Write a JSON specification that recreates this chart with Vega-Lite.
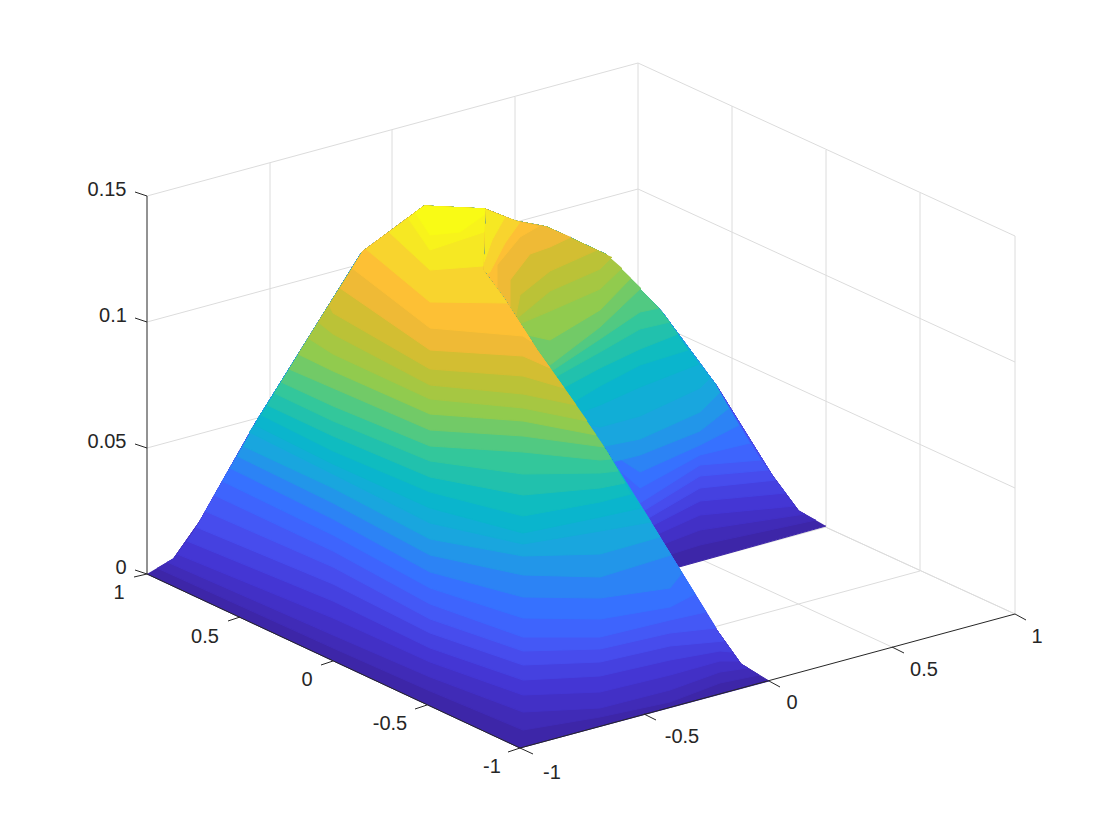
{"$schema":"https://vega.github.io/schema/vega-lite/v6.json","width":1120,"height":840,"autosize":{"type":"fit","contains":"padding"},"padding":0,"background":"white","config":{"view":{"stroke":null}},
"datasets":{
"grid":[{"a":147,"b":196,"c":638,"d":63},{"a":147,"b":322,"c":638,"d":189},{"a":147,"b":448,"c":638,"d":315},{"a":147,"b":574,"c":638,"d":441},{"a":638,"b":63,"c":1015,"d":236},{"a":638,"b":189,"c":1015,"d":362},{"a":638,"b":315,"c":1015,"d":488},{"a":638,"b":441,"c":1015,"d":614},{"a":270,"b":541,"c":270,"d":163},{"a":392,"b":507,"c":392,"d":130},{"a":515,"b":474,"c":515,"d":97},{"a":638,"b":441,"c":638,"d":63},{"a":732,"b":484,"c":732,"d":106},{"a":826,"b":527,"c":826,"d":150},{"a":920,"b":571,"c":920,"d":193},{"a":1015,"b":614,"c":1015,"d":236},{"a":644,"b":714,"c":270,"d":541},{"a":769,"b":681,"c":392,"d":507},{"a":892,"b":647,"c":515,"d":474},{"a":1015,"b":614,"c":638,"d":441},{"a":240,"b":617,"c":732,"d":484},{"a":333,"b":661,"c":826,"d":527},{"a":427,"b":705,"c":920,"d":571}],
"axes":[{"a":147,"b":196,"c":147,"d":574},{"a":147,"b":574,"c":520,"d":748},{"a":520,"b":748,"c":1015,"d":614},{"a":147,"b":196,"c":135,"d":192},{"a":147,"b":322,"c":135,"d":318},{"a":147,"b":448,"c":135,"d":444},{"a":147,"b":574,"c":135,"d":570},{"a":147,"b":574,"c":134,"d":577},{"a":240,"b":617,"c":228,"d":621},{"a":333,"b":661,"c":321,"d":665},{"a":427,"b":705,"c":415,"d":709},{"a":520,"b":748,"c":508,"d":752},{"a":520,"b":748,"c":533,"d":754},{"a":644,"b":714,"c":656,"d":720},{"a":769,"b":681,"c":780,"d":687},{"a":892,"b":647,"c":904,"d":653},{"a":1015,"b":614,"c":1026,"d":620}],
"labels":[{"u":107,"v":190,"s":"0.15"},{"u":113,"v":316,"s":"0.1"},{"u":107,"v":442,"s":"0.05"},{"u":121,"v":568,"s":"0"},{"u":119,"v":593,"s":"1"},{"u":205,"v":637,"s":"0.5"},{"u":307,"v":680,"s":"0"},{"u":390,"v":724,"s":"-0.5"},{"u":492,"v":767,"s":"-1"},{"u":552,"v":773,"s":"-1"},{"u":682,"v":737,"s":"-0.5"},{"u":792,"v":703,"s":"0"},{"u":924,"v":670,"s":"0.5"},{"u":1037,"v":637,"s":"1"}],
"back":[
{"z":0,"u":826,"v":526},{"z":0,"u":582,"v":594},{"z":0,"u":478,"v":280},{"z":0,"u":485,"v":209},{"z":0,"u":515,"v":221},{"z":0,"u":547,"v":227},{"z":0,"u":607,"v":255},{"z":0,"u":662,"v":312},{"z":0,"u":716,"v":385},{"z":0,"u":772,"v":475},{"z":0,"u":798,"v":510},
{"z":0.005,"u":816,"v":520},{"z":0.005,"u":700,"v":545},{"z":0.005,"u":640,"v":564},{"z":0.005,"u":560,"v":420},{"z":0.005,"u":478,"v":280},{"z":0.005,"u":485,"v":209},{"z":0.005,"u":515,"v":221},{"z":0.005,"u":547,"v":227},{"z":0.005,"u":607,"v":255},{"z":0.005,"u":662,"v":312},{"z":0.005,"u":716,"v":385},{"z":0.005,"u":772,"v":475},{"z":0.005,"u":798,"v":510},
{"z":0.01,"u":805,"v":514},{"z":0.01,"u":700,"v":530},{"z":0.01,"u":640,"v":553},{"z":0.01,"u":560,"v":420},{"z":0.01,"u":478,"v":280},{"z":0.01,"u":485,"v":209},{"z":0.01,"u":515,"v":221},{"z":0.01,"u":547,"v":227},{"z":0.01,"u":607,"v":255},{"z":0.01,"u":662,"v":312},{"z":0.01,"u":716,"v":385},{"z":0.01,"u":772,"v":475},{"z":0.01,"u":798,"v":510},
{"z":0.015,"u":795,"v":506},{"z":0.015,"u":700,"v":515},{"z":0.015,"u":640,"v":542},{"z":0.015,"u":560,"v":420},{"z":0.015,"u":478,"v":280},{"z":0.015,"u":485,"v":209},{"z":0.015,"u":515,"v":221},{"z":0.015,"u":547,"v":227},{"z":0.015,"u":607,"v":255},{"z":0.015,"u":662,"v":312},{"z":0.015,"u":716,"v":385},{"z":0.015,"u":772,"v":475},
{"z":0.02,"u":786,"v":493},{"z":0.02,"u":700,"v":501},{"z":0.02,"u":640,"v":532},{"z":0.02,"u":560,"v":420},{"z":0.02,"u":478,"v":280},{"z":0.02,"u":485,"v":209},{"z":0.02,"u":515,"v":221},{"z":0.02,"u":547,"v":227},{"z":0.02,"u":607,"v":255},{"z":0.02,"u":662,"v":312},{"z":0.02,"u":716,"v":385},{"z":0.02,"u":772,"v":475},
{"z":0.025,"u":776,"v":480},{"z":0.025,"u":700,"v":488},{"z":0.025,"u":640,"v":523},{"z":0.025,"u":560,"v":420},{"z":0.025,"u":478,"v":280},{"z":0.025,"u":485,"v":209},{"z":0.025,"u":515,"v":221},{"z":0.025,"u":547,"v":227},{"z":0.025,"u":607,"v":255},{"z":0.025,"u":662,"v":312},{"z":0.025,"u":716,"v":385},{"z":0.025,"u":772,"v":475},
{"z":0.03,"u":768,"v":470},{"z":0.03,"u":700,"v":476},{"z":0.03,"u":640,"v":513},{"z":0.03,"u":560,"v":420},{"z":0.03,"u":478,"v":280},{"z":0.03,"u":485,"v":209},{"z":0.03,"u":515,"v":221},{"z":0.03,"u":547,"v":227},{"z":0.03,"u":607,"v":255},{"z":0.03,"u":662,"v":312},{"z":0.03,"u":716,"v":385},
{"z":0.035,"u":761,"v":460},{"z":0.035,"u":700,"v":465},{"z":0.035,"u":640,"v":503},{"z":0.035,"u":560,"v":420},{"z":0.035,"u":478,"v":280},{"z":0.035,"u":485,"v":209},{"z":0.035,"u":515,"v":221},{"z":0.035,"u":547,"v":227},{"z":0.035,"u":607,"v":255},{"z":0.035,"u":662,"v":312},{"z":0.035,"u":716,"v":385},
{"z":0.04,"u":750,"v":443},{"z":0.04,"u":700,"v":455},{"z":0.04,"u":640,"v":488},{"z":0.04,"u":560,"v":420},{"z":0.04,"u":478,"v":280},{"z":0.04,"u":485,"v":209},{"z":0.04,"u":515,"v":221},{"z":0.04,"u":547,"v":227},{"z":0.04,"u":607,"v":255},{"z":0.04,"u":662,"v":312},{"z":0.04,"u":716,"v":385},
{"z":0.045,"u":739,"v":425},{"z":0.045,"u":700,"v":445},{"z":0.045,"u":640,"v":472},{"z":0.045,"u":560,"v":420},{"z":0.045,"u":478,"v":280},{"z":0.045,"u":485,"v":209},{"z":0.045,"u":515,"v":221},{"z":0.045,"u":547,"v":227},{"z":0.045,"u":607,"v":255},{"z":0.045,"u":662,"v":312},{"z":0.045,"u":716,"v":385},
{"z":0.05,"u":729,"v":408},{"z":0.05,"u":700,"v":431},{"z":0.05,"u":640,"v":455},{"z":0.05,"u":600,"v":465},{"z":0.05,"u":560,"v":420},{"z":0.05,"u":478,"v":280},{"z":0.05,"u":485,"v":209},{"z":0.05,"u":515,"v":221},{"z":0.05,"u":547,"v":227},{"z":0.05,"u":607,"v":255},{"z":0.05,"u":662,"v":312},{"z":0.05,"u":716,"v":385},
{"z":0.055,"u":720,"v":392},{"z":0.055,"u":700,"v":412},{"z":0.055,"u":640,"v":439},{"z":0.055,"u":600,"v":447},{"z":0.055,"u":560,"v":420},{"z":0.055,"u":478,"v":280},{"z":0.055,"u":485,"v":209},{"z":0.055,"u":515,"v":221},{"z":0.055,"u":547,"v":227},{"z":0.055,"u":607,"v":255},{"z":0.055,"u":662,"v":312},{"z":0.055,"u":716,"v":385},
{"z":0.06,"u":710,"v":378},{"z":0.06,"u":700,"v":388},{"z":0.06,"u":640,"v":416},{"z":0.06,"u":600,"v":427},{"z":0.06,"u":560,"v":420},{"z":0.06,"u":478,"v":280},{"z":0.06,"u":485,"v":209},{"z":0.06,"u":515,"v":221},{"z":0.06,"u":547,"v":227},{"z":0.06,"u":607,"v":255},{"z":0.06,"u":662,"v":312},
{"z":0.065,"u":699,"v":364},{"z":0.065,"u":640,"v":387},{"z":0.065,"u":600,"v":405},{"z":0.065,"u":560,"v":420},{"z":0.065,"u":478,"v":280},{"z":0.065,"u":485,"v":209},{"z":0.065,"u":515,"v":221},{"z":0.065,"u":547,"v":227},{"z":0.065,"u":607,"v":255},{"z":0.065,"u":662,"v":312},
{"z":0.07,"u":688,"v":350},{"z":0.07,"u":640,"v":365},{"z":0.07,"u":600,"v":386},{"z":0.07,"u":560,"v":410},{"z":0.07,"u":478,"v":280},{"z":0.07,"u":485,"v":209},{"z":0.07,"u":515,"v":221},{"z":0.07,"u":547,"v":227},{"z":0.07,"u":607,"v":255},{"z":0.07,"u":662,"v":312},
{"z":0.075,"u":678,"v":334},{"z":0.075,"u":640,"v":349},{"z":0.075,"u":600,"v":368},{"z":0.075,"u":550,"v":395},{"z":0.075,"u":478,"v":280},{"z":0.075,"u":485,"v":209},{"z":0.075,"u":515,"v":221},{"z":0.075,"u":547,"v":227},{"z":0.075,"u":607,"v":255},{"z":0.075,"u":662,"v":312},
{"z":0.08,"u":670,"v":322},{"z":0.08,"u":640,"v":329},{"z":0.08,"u":600,"v":352},{"z":0.08,"u":550,"v":380},{"z":0.08,"u":478,"v":280},{"z":0.08,"u":485,"v":209},{"z":0.08,"u":515,"v":221},{"z":0.08,"u":547,"v":227},{"z":0.08,"u":607,"v":255},{"z":0.08,"u":662,"v":312},
{"z":0.085,"u":659,"v":308},{"z":0.085,"u":640,"v":312},{"z":0.085,"u":600,"v":339},{"z":0.085,"u":550,"v":372},{"z":0.085,"u":478,"v":280},{"z":0.085,"u":485,"v":209},{"z":0.085,"u":515,"v":221},{"z":0.085,"u":547,"v":227},{"z":0.085,"u":607,"v":255},
{"z":0.09,"u":641,"v":288},{"z":0.09,"u":600,"v":327},{"z":0.09,"u":550,"v":365},{"z":0.09,"u":478,"v":280},{"z":0.09,"u":485,"v":209},{"z":0.09,"u":515,"v":221},{"z":0.09,"u":547,"v":227},{"z":0.09,"u":607,"v":255},
{"z":0.095,"u":631,"v":278},{"z":0.095,"u":600,"v":310},{"z":0.095,"u":550,"v":340},{"z":0.095,"u":505,"v":330},{"z":0.095,"u":478,"v":280},{"z":0.095,"u":485,"v":209},{"z":0.095,"u":515,"v":221},{"z":0.095,"u":547,"v":227},{"z":0.095,"u":607,"v":255},
{"z":0.1,"u":622,"v":268},{"z":0.1,"u":600,"v":289},{"z":0.1,"u":550,"v":311},{"z":0.1,"u":505,"v":330},{"z":0.1,"u":478,"v":280},{"z":0.1,"u":485,"v":209},{"z":0.1,"u":515,"v":221},{"z":0.1,"u":547,"v":227},{"z":0.1,"u":607,"v":255},
{"z":0.105,"u":612,"v":257},{"z":0.105,"u":600,"v":269},{"z":0.105,"u":550,"v":291},{"z":0.105,"u":515,"v":320},{"z":0.105,"u":478,"v":280},{"z":0.105,"u":485,"v":209},{"z":0.105,"u":515,"v":221},{"z":0.105,"u":547,"v":227},{"z":0.105,"u":607,"v":255},
{"z":0.11,"u":597,"v":250},{"z":0.11,"u":550,"v":271},{"z":0.11,"u":520,"v":295},{"z":0.11,"u":515,"v":320},{"z":0.11,"u":478,"v":280},{"z":0.11,"u":485,"v":209},{"z":0.11,"u":515,"v":221},{"z":0.11,"u":547,"v":227},
{"z":0.115,"u":571,"v":237},{"z":0.115,"u":550,"v":247},{"z":0.115,"u":530,"v":254},{"z":0.115,"u":510,"v":280},{"z":0.115,"u":510,"v":310},{"z":0.115,"u":478,"v":280},{"z":0.115,"u":485,"v":209},{"z":0.115,"u":515,"v":221},{"z":0.115,"u":547,"v":227},
{"z":0.12,"u":539,"v":226},{"z":0.12,"u":520,"v":237},{"z":0.12,"u":497,"v":265},{"z":0.12,"u":497,"v":292},{"z":0.12,"u":478,"v":280},{"z":0.12,"u":485,"v":209},{"z":0.12,"u":515,"v":221},
{"z":0.125,"u":520,"v":222},{"z":0.125,"u":505,"v":243},{"z":0.125,"u":490,"v":272},{"z":0.125,"u":478,"v":280},{"z":0.125,"u":485,"v":209},
{"z":0.13,"u":505,"v":217},{"z":0.13,"u":492,"v":240},{"z":0.13,"u":484,"v":262},{"z":0.13,"u":485,"v":209}
],
"front":[
{"z":0,"u":147,"v":574},{"z":0,"u":520,"v":748},{"z":0,"u":769,"v":681},{"z":0,"u":741,"v":664},{"z":0,"u":716,"v":629},{"z":0,"u":607,"v":452},{"z":0,"u":537,"v":350},{"z":0,"u":503,"v":297},{"z":0,"u":483,"v":270},{"z":0,"u":485,"v":209},{"z":0,"u":424,"v":206},{"z":0,"u":362,"v":252},{"z":0,"u":256,"v":422},{"z":0,"u":200,"v":521},{"z":0,"u":174,"v":558},
{"z":0.005,"u":157,"v":568},{"z":0.005,"u":333,"v":648},{"z":0.005,"u":430,"v":691},{"z":0.005,"u":523,"v":730},{"z":0.005,"u":600,"v":717},{"z":0.005,"u":670,"v":702},{"z":0.005,"u":720,"v":683},{"z":0.005,"u":759,"v":675},{"z":0.005,"u":741,"v":664},{"z":0.005,"u":716,"v":629},{"z":0.005,"u":607,"v":452},{"z":0.005,"u":537,"v":350},{"z":0.005,"u":503,"v":297},{"z":0.005,"u":483,"v":270},{"z":0.005,"u":485,"v":209},{"z":0.005,"u":424,"v":206},{"z":0.005,"u":362,"v":252},{"z":0.005,"u":256,"v":422},{"z":0.005,"u":200,"v":521},{"z":0.005,"u":174,"v":558},
{"z":0.01,"u":167,"v":562},{"z":0.01,"u":333,"v":635},{"z":0.01,"u":430,"v":677},{"z":0.01,"u":523,"v":712},{"z":0.01,"u":600,"v":708},{"z":0.01,"u":670,"v":690},{"z":0.01,"u":720,"v":672},{"z":0.01,"u":748,"v":668},{"z":0.01,"u":741,"v":664},{"z":0.01,"u":716,"v":629},{"z":0.01,"u":607,"v":452},{"z":0.01,"u":537,"v":350},{"z":0.01,"u":503,"v":297},{"z":0.01,"u":483,"v":270},{"z":0.01,"u":485,"v":209},{"z":0.01,"u":424,"v":206},{"z":0.01,"u":362,"v":252},{"z":0.01,"u":256,"v":422},{"z":0.01,"u":200,"v":521},{"z":0.01,"u":174,"v":558},
{"z":0.015,"u":177,"v":554},{"z":0.015,"u":333,"v":618},{"z":0.015,"u":430,"v":662},{"z":0.015,"u":523,"v":695},{"z":0.015,"u":600,"v":692},{"z":0.015,"u":670,"v":675},{"z":0.015,"u":720,"v":661},{"z":0.015,"u":739,"v":661},{"z":0.015,"u":716,"v":629},{"z":0.015,"u":607,"v":452},{"z":0.015,"u":537,"v":350},{"z":0.015,"u":503,"v":297},{"z":0.015,"u":483,"v":270},{"z":0.015,"u":485,"v":209},{"z":0.015,"u":424,"v":206},{"z":0.015,"u":362,"v":252},{"z":0.015,"u":256,"v":422},{"z":0.015,"u":200,"v":521},
{"z":0.02,"u":187,"v":541},{"z":0.02,"u":333,"v":601},{"z":0.02,"u":430,"v":648},{"z":0.02,"u":523,"v":680},{"z":0.02,"u":600,"v":676},{"z":0.02,"u":670,"v":660},{"z":0.02,"u":720,"v":651},{"z":0.02,"u":732,"v":652},{"z":0.02,"u":716,"v":629},{"z":0.02,"u":607,"v":452},{"z":0.02,"u":537,"v":350},{"z":0.02,"u":503,"v":297},{"z":0.02,"u":483,"v":270},{"z":0.02,"u":485,"v":209},{"z":0.02,"u":424,"v":206},{"z":0.02,"u":362,"v":252},{"z":0.02,"u":256,"v":422},{"z":0.02,"u":200,"v":521},
{"z":0.025,"u":196,"v":527},{"z":0.025,"u":333,"v":584},{"z":0.025,"u":430,"v":633},{"z":0.025,"u":523,"v":665},{"z":0.025,"u":600,"v":662},{"z":0.025,"u":670,"v":646},{"z":0.025,"u":724,"v":641},{"z":0.025,"u":716,"v":629},{"z":0.025,"u":607,"v":452},{"z":0.025,"u":537,"v":350},{"z":0.025,"u":503,"v":297},{"z":0.025,"u":483,"v":270},{"z":0.025,"u":485,"v":209},{"z":0.025,"u":424,"v":206},{"z":0.025,"u":362,"v":252},{"z":0.025,"u":256,"v":422},{"z":0.025,"u":200,"v":521},
{"z":0.03,"u":205,"v":511},{"z":0.03,"u":333,"v":567},{"z":0.03,"u":430,"v":619},{"z":0.03,"u":523,"v":651},{"z":0.03,"u":600,"v":649},{"z":0.03,"u":670,"v":633},{"z":0.03,"u":716,"v":628},{"z":0.03,"u":607,"v":452},{"z":0.03,"u":537,"v":350},{"z":0.03,"u":503,"v":297},{"z":0.03,"u":483,"v":270},{"z":0.03,"u":485,"v":209},{"z":0.03,"u":424,"v":206},{"z":0.03,"u":362,"v":252},{"z":0.03,"u":256,"v":422},
{"z":0.035,"u":214,"v":495},{"z":0.035,"u":333,"v":551},{"z":0.035,"u":430,"v":604},{"z":0.035,"u":523,"v":637},{"z":0.035,"u":600,"v":637},{"z":0.035,"u":670,"v":620},{"z":0.035,"u":706,"v":612},{"z":0.035,"u":607,"v":452},{"z":0.035,"u":537,"v":350},{"z":0.035,"u":503,"v":297},{"z":0.035,"u":483,"v":270},{"z":0.035,"u":485,"v":209},{"z":0.035,"u":424,"v":206},{"z":0.035,"u":362,"v":252},{"z":0.035,"u":256,"v":422},
{"z":0.04,"u":222,"v":481},{"z":0.04,"u":333,"v":535},{"z":0.04,"u":430,"v":588},{"z":0.04,"u":523,"v":618},{"z":0.04,"u":600,"v":619},{"z":0.04,"u":670,"v":607},{"z":0.04,"u":695,"v":594},{"z":0.04,"u":607,"v":452},{"z":0.04,"u":537,"v":350},{"z":0.04,"u":503,"v":297},{"z":0.04,"u":483,"v":270},{"z":0.04,"u":485,"v":209},{"z":0.04,"u":424,"v":206},{"z":0.04,"u":362,"v":252},{"z":0.04,"u":256,"v":422},
{"z":0.045,"u":230,"v":468},{"z":0.045,"u":333,"v":519},{"z":0.045,"u":430,"v":572},{"z":0.045,"u":523,"v":597},{"z":0.045,"u":600,"v":598},{"z":0.045,"u":670,"v":588},{"z":0.045,"u":682,"v":573},{"z":0.045,"u":607,"v":452},{"z":0.045,"u":537,"v":350},{"z":0.045,"u":503,"v":297},{"z":0.045,"u":483,"v":270},{"z":0.045,"u":485,"v":209},{"z":0.045,"u":424,"v":206},{"z":0.045,"u":362,"v":252},{"z":0.045,"u":256,"v":422},
{"z":0.05,"u":237,"v":456},{"z":0.05,"u":333,"v":503},{"z":0.05,"u":430,"v":555},{"z":0.05,"u":523,"v":575},{"z":0.05,"u":600,"v":577},{"z":0.05,"u":671,"v":555},{"z":0.05,"u":607,"v":452},{"z":0.05,"u":537,"v":350},{"z":0.05,"u":503,"v":297},{"z":0.05,"u":483,"v":270},{"z":0.05,"u":485,"v":209},{"z":0.05,"u":424,"v":206},{"z":0.05,"u":362,"v":252},{"z":0.05,"u":256,"v":422},
{"z":0.055,"u":243,"v":446},{"z":0.055,"u":333,"v":488},{"z":0.055,"u":430,"v":539},{"z":0.055,"u":523,"v":556},{"z":0.055,"u":600,"v":554},{"z":0.055,"u":660,"v":537},{"z":0.055,"u":607,"v":452},{"z":0.055,"u":537,"v":350},{"z":0.055,"u":503,"v":297},{"z":0.055,"u":483,"v":270},{"z":0.055,"u":485,"v":209},{"z":0.055,"u":424,"v":206},{"z":0.055,"u":362,"v":252},{"z":0.055,"u":256,"v":422},
{"z":0.06,"u":249,"v":432},{"z":0.06,"u":333,"v":474},{"z":0.06,"u":430,"v":523},{"z":0.06,"u":523,"v":544},{"z":0.06,"u":600,"v":531},{"z":0.06,"u":651,"v":522},{"z":0.06,"u":607,"v":452},{"z":0.06,"u":537,"v":350},{"z":0.06,"u":503,"v":297},{"z":0.06,"u":483,"v":270},{"z":0.06,"u":485,"v":209},{"z":0.06,"u":424,"v":206},{"z":0.06,"u":362,"v":252},{"z":0.06,"u":256,"v":422},
{"z":0.065,"u":255,"v":425},{"z":0.065,"u":333,"v":464},{"z":0.065,"u":430,"v":508},{"z":0.065,"u":523,"v":533},{"z":0.065,"u":600,"v":517},{"z":0.065,"u":641,"v":508},{"z":0.065,"u":607,"v":452},{"z":0.065,"u":537,"v":350},{"z":0.065,"u":503,"v":297},{"z":0.065,"u":483,"v":270},{"z":0.065,"u":485,"v":209},{"z":0.065,"u":424,"v":206},{"z":0.065,"u":362,"v":252},
{"z":0.07,"u":261,"v":415},{"z":0.07,"u":333,"v":451},{"z":0.07,"u":430,"v":492},{"z":0.07,"u":523,"v":516},{"z":0.07,"u":600,"v":502},{"z":0.07,"u":631,"v":494},{"z":0.07,"u":607,"v":452},{"z":0.07,"u":537,"v":350},{"z":0.07,"u":503,"v":297},{"z":0.07,"u":483,"v":270},{"z":0.07,"u":485,"v":209},{"z":0.07,"u":424,"v":206},{"z":0.07,"u":362,"v":252},
{"z":0.075,"u":267,"v":405},{"z":0.075,"u":333,"v":436},{"z":0.075,"u":430,"v":477},{"z":0.075,"u":523,"v":495},{"z":0.075,"u":600,"v":488},{"z":0.075,"u":625,"v":483},{"z":0.075,"u":607,"v":452},{"z":0.075,"u":537,"v":350},{"z":0.075,"u":503,"v":297},{"z":0.075,"u":483,"v":270},{"z":0.075,"u":485,"v":209},{"z":0.075,"u":424,"v":206},{"z":0.075,"u":362,"v":252},
{"z":0.08,"u":274,"v":393},{"z":0.08,"u":333,"v":421},{"z":0.08,"u":430,"v":461},{"z":0.08,"u":523,"v":474},{"z":0.08,"u":600,"v":473},{"z":0.08,"u":618,"v":471},{"z":0.08,"u":607,"v":452},{"z":0.08,"u":537,"v":350},{"z":0.08,"u":503,"v":297},{"z":0.08,"u":483,"v":270},{"z":0.08,"u":485,"v":209},{"z":0.08,"u":424,"v":206},{"z":0.08,"u":362,"v":252},
{"z":0.085,"u":281,"v":382},{"z":0.085,"u":333,"v":406},{"z":0.085,"u":430,"v":446},{"z":0.085,"u":523,"v":452},{"z":0.085,"u":600,"v":460},{"z":0.085,"u":611,"v":459},{"z":0.085,"u":607,"v":452},{"z":0.085,"u":537,"v":350},{"z":0.085,"u":503,"v":297},{"z":0.085,"u":483,"v":270},{"z":0.085,"u":485,"v":209},{"z":0.085,"u":424,"v":206},{"z":0.085,"u":362,"v":252},
{"z":0.09,"u":289,"v":369},{"z":0.09,"u":333,"v":388},{"z":0.09,"u":430,"v":430},{"z":0.09,"u":523,"v":436},{"z":0.09,"u":604,"v":447},{"z":0.09,"u":537,"v":350},{"z":0.09,"u":503,"v":297},{"z":0.09,"u":483,"v":270},{"z":0.09,"u":485,"v":209},{"z":0.09,"u":424,"v":206},{"z":0.09,"u":362,"v":252},
{"z":0.095,"u":298,"v":354},{"z":0.095,"u":333,"v":371},{"z":0.095,"u":430,"v":414},{"z":0.095,"u":523,"v":421},{"z":0.095,"u":596,"v":435},{"z":0.095,"u":537,"v":350},{"z":0.095,"u":503,"v":297},{"z":0.095,"u":483,"v":270},{"z":0.095,"u":485,"v":209},{"z":0.095,"u":424,"v":206},{"z":0.095,"u":362,"v":252},
{"z":0.1,"u":308,"v":338},{"z":0.1,"u":333,"v":354},{"z":0.1,"u":430,"v":399},{"z":0.1,"u":523,"v":408},{"z":0.1,"u":587,"v":421},{"z":0.1,"u":537,"v":350},{"z":0.1,"u":503,"v":297},{"z":0.1,"u":483,"v":270},{"z":0.1,"u":485,"v":209},{"z":0.1,"u":424,"v":206},{"z":0.1,"u":362,"v":252},
{"z":0.105,"u":318,"v":322},{"z":0.105,"u":333,"v":334},{"z":0.105,"u":430,"v":385},{"z":0.105,"u":523,"v":394},{"z":0.105,"u":576,"v":405},{"z":0.105,"u":537,"v":350},{"z":0.105,"u":503,"v":297},{"z":0.105,"u":483,"v":270},{"z":0.105,"u":485,"v":209},{"z":0.105,"u":424,"v":206},{"z":0.105,"u":362,"v":252},
{"z":0.11,"u":329,"v":305},{"z":0.11,"u":333,"v":313},{"z":0.11,"u":430,"v":369},{"z":0.11,"u":523,"v":376},{"z":0.11,"u":564,"v":388},{"z":0.11,"u":537,"v":350},{"z":0.11,"u":503,"v":297},{"z":0.11,"u":483,"v":270},{"z":0.11,"u":485,"v":209},{"z":0.11,"u":424,"v":206},{"z":0.11,"u":362,"v":252},
{"z":0.115,"u":340,"v":288},{"z":0.115,"u":430,"v":350},{"z":0.115,"u":523,"v":356},{"z":0.115,"u":550,"v":368},{"z":0.115,"u":537,"v":350},{"z":0.115,"u":503,"v":297},{"z":0.115,"u":483,"v":270},{"z":0.115,"u":485,"v":209},{"z":0.115,"u":424,"v":206},{"z":0.115,"u":362,"v":252},
{"z":0.12,"u":352,"v":268},{"z":0.12,"u":430,"v":328},{"z":0.12,"u":523,"v":336},{"z":0.12,"u":532,"v":342},{"z":0.12,"u":503,"v":297},{"z":0.12,"u":483,"v":270},{"z":0.12,"u":485,"v":209},{"z":0.12,"u":424,"v":206},{"z":0.12,"u":362,"v":252},
{"z":0.125,"u":366,"v":249},{"z":0.125,"u":430,"v":302},{"z":0.125,"u":507,"v":303},{"z":0.125,"u":503,"v":297},{"z":0.125,"u":483,"v":270},{"z":0.125,"u":485,"v":209},{"z":0.125,"u":424,"v":206},
{"z":0.13,"u":389,"v":232},{"z":0.13,"u":430,"v":270},{"z":0.13,"u":483,"v":266},{"z":0.13,"u":485,"v":209},{"z":0.13,"u":424,"v":206},
{"z":0.133,"u":408,"v":218},{"z":0.133,"u":430,"v":250},{"z":0.133,"u":484,"v":232},{"z":0.133,"u":485,"v":209},{"z":0.133,"u":424,"v":206},
{"z":0.135,"u":415,"v":212},{"z":0.135,"u":430,"v":235},{"z":0.135,"u":460,"v":232},{"z":0.135,"u":484,"v":215},{"z":0.135,"u":485,"v":209},{"z":0.135,"u":424,"v":206}
]},
"layer":[
{"data":{"name":"grid"},"mark":{"type":"rule","color":"#DCDCDC","strokeWidth":1},"encoding":{"x":{"field":"a","type":"quantitative","scale":{"domain":[0,1120],"nice":false},"axis":null},"y":{"field":"b","type":"quantitative","scale":{"domain":[840,0],"nice":false},"axis":null},"x2":{"field":"c"},"y2":{"field":"d"}}},
{"data":{"name":"back"},"transform":[{"window":[{"op":"row_number","as":"i"}]}],"mark":{"type":"line","strokeWidth":1,"strokeJoin":"round","interpolate":"linear"},"encoding":{"x":{"field":"u","type":"quantitative","scale":{"domain":[0,1120],"nice":false},"axis":null},"y":{"field":"v","type":"quantitative","scale":{"domain":[840,0],"nice":false},"axis":null},"order":{"field":"i","type":"quantitative"},"fill":{"field":"z","type":"quantitative","legend":null,"scale":{"interpolate":"rgb","domain":[0,0.0135,0.027,0.0365,0.0405,0.054,0.0675,0.081,0.0945,0.108,0.118,0.128,0.135],"range":["#3D26A8","#4433D0","#4750F2","#3C68FF","#3572FF","#1AA5E0","#06B9C9","#37C897","#8FCB4F","#C8C030","#FFB838","#F5E029","#F9FB15"]}},"stroke":{"field":"z","type":"quantitative","legend":null,"scale":{"interpolate":"rgb","domain":[0,0.0135,0.027,0.0365,0.0405,0.054,0.0675,0.081,0.0945,0.108,0.118,0.128,0.135],"range":["#3D26A8","#4433D0","#4750F2","#3C68FF","#3572FF","#1AA5E0","#06B9C9","#37C897","#8FCB4F","#C8C030","#FFB838","#F5E029","#F9FB15"]}}}},
{"data":{"name":"front"},"transform":[{"window":[{"op":"row_number","as":"i"}]}],"mark":{"type":"line","strokeWidth":1,"strokeJoin":"round","interpolate":"linear"},"encoding":{"x":{"field":"u","type":"quantitative","scale":{"domain":[0,1120],"nice":false},"axis":null},"y":{"field":"v","type":"quantitative","scale":{"domain":[840,0],"nice":false},"axis":null},"order":{"field":"i","type":"quantitative"},"fill":{"field":"z","type":"quantitative","legend":null,"scale":{"interpolate":"rgb","domain":[0,0.0135,0.027,0.0365,0.0405,0.054,0.0675,0.081,0.0945,0.108,0.118,0.128,0.135],"range":["#3D26A8","#4433D0","#4750F2","#3C68FF","#3572FF","#1AA5E0","#06B9C9","#37C897","#8FCB4F","#C8C030","#FFB838","#F5E029","#F9FB15"]}},"stroke":{"field":"z","type":"quantitative","legend":null,"scale":{"interpolate":"rgb","domain":[0,0.0135,0.027,0.0365,0.0405,0.054,0.0675,0.081,0.0945,0.108,0.118,0.128,0.135],"range":["#3D26A8","#4433D0","#4750F2","#3C68FF","#3572FF","#1AA5E0","#06B9C9","#37C897","#8FCB4F","#C8C030","#FFB838","#F5E029","#F9FB15"]}}}},
{"data":{"name":"axes"},"mark":{"type":"rule","color":"#262626","strokeWidth":1},"encoding":{"x":{"field":"a","type":"quantitative","scale":{"domain":[0,1120],"nice":false},"axis":null},"y":{"field":"b","type":"quantitative","scale":{"domain":[840,0],"nice":false},"axis":null},"x2":{"field":"c"},"y2":{"field":"d"}}},
{"data":{"name":"labels"},"mark":{"type":"text","font":"Liberation Sans","fontSize":20,"color":"#262626","baseline":"middle","align":"center"},"encoding":{"x":{"field":"u","type":"quantitative","scale":{"domain":[0,1120],"nice":false},"axis":null},"y":{"field":"v","type":"quantitative","scale":{"domain":[840,0],"nice":false},"axis":null},"text":{"field":"s"}}}
],
"resolve":{"scale":{"fill":"shared","stroke":"shared"}}}
